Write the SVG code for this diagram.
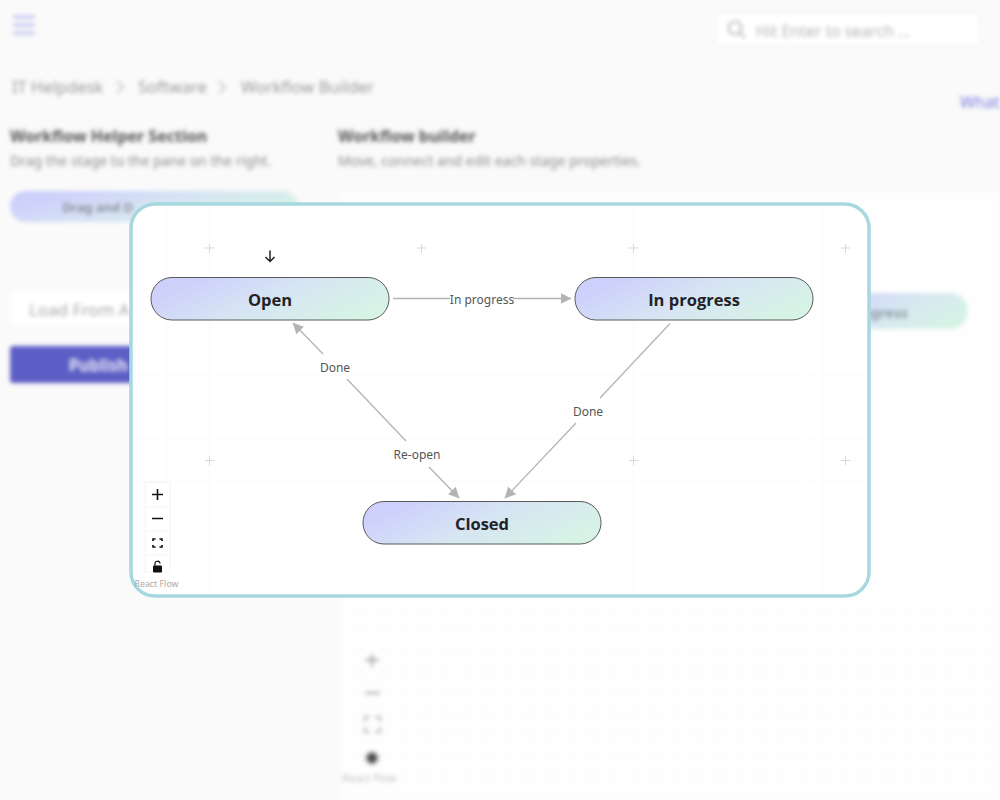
<svg xmlns="http://www.w3.org/2000/svg" width="1000" height="800" viewBox="0 0 1000 800">
<style>
.ui{font-family:"Noto Sans","Open Sans","Liberation Sans",sans-serif}
.bgh{font-size:16px;font-weight:700;fill:#555}
.bgs{font-size:14px;fill:#8a8a8a}
.bgc{font-size:16.500px;fill:#999}
.pill{fill:url(#pg);stroke:#5a5a5a;stroke-width:1}
.nl{font-family:"Open Sans","Noto Sans","Liberation Sans",sans-serif;font-size:16.500px;font-weight:700;fill:#1f2328;text-anchor:middle}
.el{font-family:"Noto Sans","Open Sans","Liberation Sans",sans-serif;font-size:12px;fill:#555;text-anchor:middle}
.edge{fill:none;stroke:#b4b4b4;stroke-width:1.300}
.grid line{stroke:#fbfbfb;stroke-width:1}
.plus{stroke:#d9d9d9;stroke-width:1;fill:none}
.ctl{stroke:#111;stroke-width:1.600;fill:none}
</style>
<defs>
<linearGradient id="pg" x1="0" y1="0.300" x2="1" y2="0.700">
<stop offset="0.06" stop-color="#cdd0fb"/><stop offset="0.5" stop-color="#d7e5f3"/><stop offset="0.94" stop-color="#d6f3e6"/>
</linearGradient>
<pattern id="fine" width="21" height="21" patternUnits="userSpaceOnUse" x="340" y="608"><path d="M21 0H0V21" fill="none" stroke="#f8f8f8" stroke-width="1"/></pattern>
<marker id="ah" markerWidth="12" markerHeight="12" refX="10.500" refY="5.500" orient="auto-start-reverse" markerUnits="userSpaceOnUse">
<path d="M0,0 L11,5.500 L0,11 Z" fill="#b4b4b4"/>
</marker>
<filter id="blur" x="-5%" y="-5%" width="110%" height="110%"><feGaussianBlur stdDeviation="2.300"/></filter>
</defs>
<rect width="1000" height="800" fill="#fafafa"/>
<g id="background" filter="url(#blur)">
<rect x="340" y="192" width="660" height="608" fill="#fefefe"/>
<rect x="340" y="608" width="660" height="185" fill="url(#fine)"/>
<g stroke="#c9caf0" stroke-width="3.500"><path d="M13 17H35M13 25H35M13 33H35"/></g>
<rect x="716" y="13" width="264" height="33" rx="4" fill="#fff" stroke="#eee"/>
<circle cx="735" cy="28" r="6.500" fill="none" stroke="#999" stroke-width="1.600"/><path d="M740 33L745 38" stroke="#999" stroke-width="1.600"/>
<text class="ui" x="756" y="37" font-size="15.800" fill="#aaa">Hit Enter to search ...</text>
<text class="ui bgc" x="12" y="93">IT Helpdesk</text>
<path d="M117 81L123 87L117 93M219 81L225 87L219 93" fill="none" stroke="#bbb" stroke-width="1.500"/>
<text class="ui bgc" x="138" y="93">Software</text>
<text class="ui bgc" x="241" y="93">Workflow Builder</text>
<text class="ui" x="960" y="108" font-size="16" fill="#7a7ae0">What</text>
<text class="ui bgh" x="10" y="142">Workflow Helper Section</text>
<text class="ui bgs" x="10" y="166">Drag the stage to the pane on the right.</text>
<text class="ui bgh" x="338" y="142">Workflow builder</text>
<text class="ui bgs" x="338" y="166">Move, connect and edit each stage properties.</text>
<rect x="10" y="191" width="288" height="31" rx="15.500" fill="url(#pg)"/>
<text class="ui" x="62" y="212" font-size="13" font-weight="600" fill="#777">Drag and D</text>
<rect x="12" y="292" width="160" height="34" rx="3" fill="#fff"/>
<text class="ui" x="29" y="316" font-size="17" fill="#999">Load From A</text>
<rect x="10" y="346" width="170" height="37" rx="3" fill="#5d5ec6"/>
<text class="ui" x="69" y="371" font-size="16" font-weight="700" fill="#d5d6f5">Publish</text>
<rect x="800" y="293" width="168" height="36" rx="18" fill="url(#pg)"/>
<text class="ui" x="908" y="318" font-size="14" font-weight="700" fill="#8a94a0" text-anchor="end">In progress</text>
<path d="M372 654V667M365 660H379M365 693H380" stroke="#aaa" stroke-width="2.500"/>
<path d="M365 722V717H370M375 717H380V722M380 727V732H375M370 732H365V727" fill="none" stroke="#aaa" stroke-width="2"/>
<circle cx="372" cy="758" r="6.500" fill="#555"/>
<text class="ui" x="342" y="782" font-size="11" fill="#bbb">React Flow</text>
</g>
<rect id="card" x="131" y="204" width="738" height="392" rx="24" fill="#fff" stroke="#a6d8df" stroke-width="3.500"/>
<g id="grid" class="grid">
<line x1="134" y1="290" x2="866" y2="290"/><line x1="134" y1="333" x2="866" y2="333"/><line x1="134" y1="375" x2="866" y2="375"/><line x1="134" y1="418" x2="866" y2="418"/><line x1="134" y1="439" x2="866" y2="439"/><line x1="134" y1="460" x2="866" y2="460"/><line x1="134" y1="481" x2="866" y2="481"/><line x1="134" y1="502" x2="866" y2="502"/><line x1="167" y1="207" x2="167" y2="593"/><line x1="209" y1="207" x2="209" y2="593"/><line x1="633" y1="207" x2="633" y2="593"/><line x1="803" y1="207" x2="803" y2="593"/><line x1="823" y1="207" x2="823" y2="593"/><line x1="134" y1="248" x2="866" y2="248"/>
<path class="plus" d="M205 248H214M209.500 244V253M417 248H426M421.500 244V253M629 248H638M633.500 244V253M841 248H850M845.500 244V253M205 460.500H214M209.500 456V465M629 460.500H638M633.500 456V465M841 460.500H850M845.500 456V465"/>
</g>
<g id="connectors">
<path class="edge" d="M393 298.500H450M513 298.500H571" marker-end="url(#ah)"/>
<path class="edge" d="M670 323.500L600 398M576 423L505 498" marker-end="url(#ah)"/>
<path class="edge" d="M323 354L293 323" marker-end="url(#ah)"/>
<path class="edge" d="M347 379L406 441"/>
<path class="edge" d="M429 467L459 498" marker-end="url(#ah)"/>
<text class="el" x="482" y="304">In progress</text>
<text class="el" x="335" y="372">Done</text>
<text class="el" x="588" y="416">Done</text>
<text class="el" x="417" y="459">Re-open</text>
</g>
<g id="node-open">
<rect class="pill" x="151" y="277.500" width="238" height="42.500" rx="21"/>
<text class="nl" x="270" y="305.500">Open</text>
</g>
<g id="node-in-progress">
<rect class="pill" x="575" y="277.500" width="238" height="42.500" rx="21"/>
<text class="nl" x="694" y="305.500">In progress</text>
</g>
<g id="node-closed">
<rect class="pill" x="363" y="501.500" width="238" height="42.500" rx="21"/>
<text class="nl" x="482" y="529.500">Closed</text>
</g>
<path id="drop-arrow" d="M270 250.500V261.500M265.500 257L270 261.500L274.500 257" fill="none" stroke="#222" stroke-width="1.500"/>
<g id="controls">
<rect x="145" y="482" width="25" height="90" fill="#fff" stroke="#f4f4f4"/>
<path d="M145 507H170M145 531H170M145 555H170" stroke="#f5f5f5"/>
<path class="ctl" d="M157.500 489V500M152 494.500H163M152 518.500H163"/>
<path class="ctl" d="M153 541V539H155.500M159.500 539H162V541M162 545V547H159.500M155.500 547H153V545" stroke-width="1.300"/>
<rect x="153" y="565.500" width="9" height="7" rx="1" fill="#111"/>
<path d="M155 566V564A2.500 2.500 0 0 1 160 563.500" fill="none" stroke="#111" stroke-width="1.200"/>
<text x="134.500" y="587" font-family="'Noto Sans','Open Sans',sans-serif" font-size="8.800" fill="#aaa">React Flow</text>
</g>
</svg>
